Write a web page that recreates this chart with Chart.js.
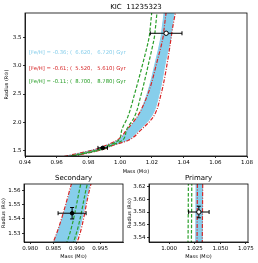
<!DOCTYPE html>
<html>
<head>
<meta charset="utf-8">
<script src="https://cdn.jsdelivr.net/npm/chart.js@4.4.1/dist/chart.umd.min.js"></script>
<style>
  html, body { margin: 0; padding: 0; background: #fff; }
  #wrap { position: relative; width: 258px; height: 263px; }
  canvas { position: absolute; left: 0; top: 0; }
</style>
</head>
<body>
<div id="wrap">
  <canvas id="mainChart" width="258" height="263"></canvas>
  <canvas id="secChart" width="258" height="263"></canvas>
  <canvas id="priChart" width="258" height="263"></canvas>
</div>
<script>
// radius samples (R_sun) shared by all isochrone tracks
const radius     = [1.30, 1.40, 1.524, 1.565, 1.68, 1.86, 2.10, 2.50, 3.10, 3.53, 3.63, 4.00];
// mass (M_sun) along each track, two ages per metallicity
const massBlueA  = [0.9505, 0.9665, 0.9851, 0.9891, 0.9985, 1.0045, 1.0112, 1.0170, 1.0225, 1.0259, 1.0263, 1.0280];
const massBlueB  = [0.9545, 0.9705, 0.9897, 0.9929, 1.0045, 1.0120, 1.0197, 1.0246, 1.0288, 1.0322, 1.0326, 1.0342];
const massRedA   = [0.9500, 0.9660, 0.9850, 0.9889, 0.9980, 1.0040, 1.0108, 1.0175, 1.0235, 1.0272, 1.0276, 1.0292];
const massRedB   = [0.9552, 0.9712, 0.9901, 0.9931, 1.0052, 1.0130, 1.0210, 1.0258, 1.0300, 1.0323, 1.0328, 1.0352];
const massGreenA = [0.9528, 0.9688, 0.9879, 0.9909, 0.9990, 1.0010, 1.0049, 1.0091, 1.0148, 1.0184, 1.0188, 1.0201];
const massGreenB = [0.9540, 0.9700, 0.9893, 0.9923, 1.0015, 1.0040, 1.0091, 1.0133, 1.0184, 1.0217, 1.0221, 1.0234];

// track labels
const feh     = ['-0.36', '-0.61', '-0.11'];
const ageLow  = ['6.620', '5.520', '8.700'];
const ageHigh = ['6.720', '5.610', '8.780'];

// stars: primary, secondary
const starMass      = [1.029, 0.989];
const starMassErr   = [0.010, 0.003];
const starRadius    = [3.580, 1.544];
const starRadiusErr = [0.009, 0.004];

// tick labels
const mainXTicks = [0.94, 0.96, 0.98, 1.00, 1.02, 1.04, 1.06, 1.08];
const mainYTicks = [1.5, 2.0, 2.5, 3.0, 3.5];
const secXTicks  = [0.980, 0.985, 0.990, 0.995];
const secYTicks  = [1.53, 1.54, 1.55, 1.56];
const priXTicks  = [1.000, 1.025, 1.050, 1.075];
const priYTicks  = [3.54, 3.56, 3.58, 3.60, 3.62];

const SKY = '#87ceeb', RED = '#d62728', GREEN = '#2ca02c';
Chart.defaults.font.family = 'DejaVu Sans';
Chart.defaults.color = '#000';

const pts = arr => arr.map((m, i) => ({ x: m, y: radius[i] }));

function datasets() {
  const line = (data, color, dash, order, extra) => Object.assign({
    type: 'line', data: pts(data), borderColor: color, borderWidth: 1.2,
    borderDash: dash, pointRadius: 0, cubicInterpolationMode: 'monotone',
    fill: false, order: order, clip: 0
  }, extra || {});
  return [
    line(massBlueA, SKY, [], 3, { fill: '+1', backgroundColor: SKY, borderWidth: 1 }),
    line(massBlueB, SKY, [], 3, { borderWidth: 1 }),
    line(massRedA, RED, [4, 1.5, 1, 1.5], 2),
    line(massRedB, RED, [4, 1.5, 1, 1.5], 2),
    line(massGreenA, GREEN, [3.5, 1.8], 1),
    line(massGreenB, GREEN, [3.5, 1.8], 1),
    {
      type: 'scatter', data: starMass.map((m, i) => ({ x: m, y: starRadius[i] })),
      pointRadius: [2.2, 1.8], pointBackgroundColor: ['#fff', '#000'],
      pointBorderColor: '#000', pointBorderWidth: 1, order: 0, clip: 0
    }
  ];
}

const errorBars = {
  id: 'errorBars',
  beforeDatasetDraw(chart, args) {
    if (args.index !== 6) return;
    const { ctx, chartArea: a, scales: { x, y } } = chart;
    ctx.save();
    ctx.beginPath(); ctx.rect(a.left, a.top, a.width, a.height); ctx.clip();
    ctx.strokeStyle = '#000'; ctx.lineWidth = 1;
    const cap = 2;
    starMass.forEach((m, i) => {
      const cx = x.getPixelForValue(m), cy = y.getPixelForValue(starRadius[i]);
      const xl = x.getPixelForValue(m - starMassErr[i]), xr = x.getPixelForValue(m + starMassErr[i]);
      const yb = y.getPixelForValue(starRadius[i] - starRadiusErr[i]);
      const yt = y.getPixelForValue(starRadius[i] + starRadiusErr[i]);
      ctx.beginPath();
      ctx.moveTo(xl, cy); ctx.lineTo(xr, cy);
      ctx.moveTo(cx, yb); ctx.lineTo(cx, yt);
      ctx.moveTo(xl, cy - cap); ctx.lineTo(xl, cy + cap);
      ctx.moveTo(xr, cy - cap); ctx.lineTo(xr, cy + cap);
      ctx.moveTo(cx - cap, yb); ctx.lineTo(cx + cap, yb);
      ctx.moveTo(cx - cap, yt); ctx.lineTo(cx + cap, yt);
      ctx.stroke();
    });
    ctx.restore();
  }
};

const frame = {
  id: 'frame',
  afterDatasetsDraw(chart, args, opts) {
    const { ctx, chartArea: a } = chart;
    ctx.save();
    ctx.strokeStyle = '#000'; ctx.lineWidth = 0.8;
    ctx.strokeRect(a.left, a.top, a.width, a.height);
    ctx.fillStyle = '#000';
    ctx.font = '7px "DejaVu Sans"';
    ctx.textAlign = 'center'; ctx.textBaseline = 'middle';
    ctx.fillText(opts.title, (a.left + a.right) / 2, a.top - 6);
    ctx.restore();
  }
};

const trackText = {
  id: 'trackText',
  afterDatasetsDraw(chart) {
    const { ctx, chartArea: a } = chart;
    const colors = [SKY, RED, GREEN];
    const fracs = [0.28, 0.392, 0.483];
    ctx.save();
    ctx.font = '5.3px "DejaVu Sans"';
    ctx.textAlign = 'left'; ctx.textBaseline = 'middle';
    feh.forEach((f, i) => {
      ctx.fillStyle = colors[i];
      ctx.fillText('[Fe/H] = ' + f + '; (  ' + ageLow[i] + ',   ' + ageHigh[i] + ') Gyr',
        a.left + 4, a.top + fracs[i] * a.height);
    });
    ctx.restore();
  }
};

function axis(min, max, ticks, dec, size, title, titlePad) {
  return {
    type: 'linear', min: min, max: max,
    afterBuildTicks: s => { s.ticks = ticks.map(v => ({ value: v })); },
    afterFit: s => { if (s.isHorizontal()) s.height = size; else s.width = size; },
    ticks: { autoSkip: false, maxRotation: 0, padding: 1.5, font: { size: 5.5 },
             callback: v => Number(v).toFixed(dec) },
    grid: { drawOnChartArea: false, drawTicks: true, tickLength: 2, color: '#000', lineWidth: 0.8 },
    border: { display: true, color: '#000', width: 0.8 },
    title: { display: true, text: title, font: { size: 5 }, padding: titlePad }
  };
}

function makeChart(id, title, padding, xs, ys, extraPlugins) {
  return new Chart(document.getElementById(id), {
    type: 'line',
    data: { datasets: datasets() },
    options: {
      indexAxis: 'y',
      responsive: false, animation: false, devicePixelRatio: 1, events: [],
      layout: { padding: padding },
      scales: { x: xs, y: ys },
      plugins: { legend: { display: false }, tooltip: { enabled: false }, frame: { title: title } }
    },
    plugins: [errorBars, frame].concat(extraPlugins || [])
  });
}

makeChart('mainChart', 'KIC  11235323',
  { left: 0, top: 13, right: 11, bottom: 87 },
  axis(0.94, 1.08, mainXTicks, 2, 20, 'Mass (M\u2299)', { top: 0, bottom: 1.5 }),
  axis(1.40, 3.94, mainYTicks, 1, 25, 'Radius (R\u2299)', { top: 3.5, bottom: 0 }),
  [trackText]);

makeChart('secChart', 'Secondary',
  { left: 0, top: 184, right: 135, bottom: 0 },
  axis(0.9787, 0.9999, secXTicks, 3, 21, 'Mass (M\u2299)', { top: 0, bottom: 3 }),
  axis(1.5239, 1.5644, secYTicks, 2, 24, 'Radius (R\u2299)', { top: 1, bottom: 0 }));

makeChart('priChart', 'Primary',
  { left: 124, top: 184, right: 10, bottom: 0 },
  axis(0.9803, 1.077, priXTicks, 3, 21, 'Mass (M\u2299)', { top: 0, bottom: 3 }),
  axis(3.5333, 3.6236, priYTicks, 2, 25, 'Radius (R\u2299)', { top: 3, bottom: 0 }));
</script>
</body>
</html>
